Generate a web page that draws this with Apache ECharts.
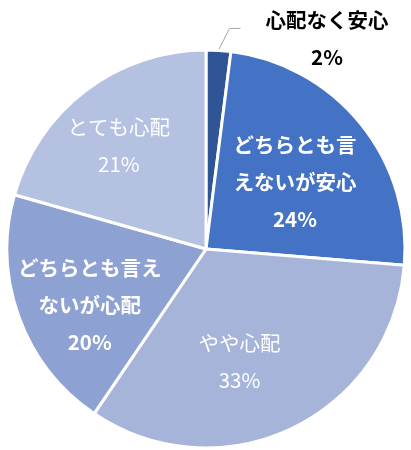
<!DOCTYPE html>
<html><head><meta charset="utf-8">
<script src="https://cdn.jsdelivr.net/npm/echarts@6/dist/echarts.min.js"></script>
<style>html,body{margin:0;padding:0;background:#fff}#c{width:411px;height:450px}</style>
</head><body><div id="c"></div>
<script>
const categories = ['心配なく安心', 'どちらとも言えないが安心', 'やや心配', 'どちらとも言えないが心配', 'とても心配'];
const values = [2.0, 24.3, 33.2, 19.9, 20.6];
const labelNames = ['心配なく安心', 'どちらとも言\nえないが安心', 'やや心配', 'どちらとも言え\nないが心配', 'とても心配'];
const colors = ['#2F5597', '#4472C4', '#A6B4DA', '#8EA1D3', '#B4C1E1'];
const bold = [true, true, false, true, false];

// label placement (polar offsets from slice centre: radius ratio, angle delta in degrees)
const labelRadius = [0, 0.56, 0.59, 0.65, 0.68];
const labelAngleShift = [0, 2, 9, -6, -3];

const cx = 206, cy = 249, R = 199;
const total = values.reduce((a, b) => a + b, 0);
const mids = [];
let acc = 0;
values.forEach(v => { mids.push((acc + v / 2) / total * 360); acc += v; });

const chart = echarts.init(document.getElementById('c'), null, {renderer: 'canvas'});
const font = '"Noto Sans CJK JP", "Noto Sans", sans-serif';
chart.setOption({
  animation: false,
  series: [{
    type: 'pie',
    center: [cx, cy],
    radius: [0, R],
    startAngle: 90,
    clockwise: true,
    avoidLabelOverlap: false,
    itemStyle: {borderColor: '#fff', borderWidth: 3},
    data: categories.map((c, i) => {
      const d = {
        name: c, value: values[i],
        itemStyle: {color: colors[i]},
        label: {
          position: i === 0 ? 'outside' : 'inside',
          color: i === 0 ? '#000' : '#fff',
          fontFamily: font,
          fontSize: 20.5,
          fontWeight: bold[i] ? 'bold' : 'normal',
          lineHeight: 37,
          align: 'center'
        }
      };
      if (i === 0) {
        d.labelLine = {show: true, length: 22, length2: 10, lineStyle: {color: '#A6A6A6', width: 1}};
      }
      return d;
    }),
    label: {
      show: true,
      formatter: p => labelNames[p.dataIndex] + '\n' + Math.round(p.percent) + '%'
    },
    labelLayout: function (p) {
      const i = p.dataIndex;
      if (i === 0) {
        const a0 = mids[0] * Math.PI / 180;
        const ex = cx + R * Math.sin(a0), ey = cy - R * Math.cos(a0);
        return {
          x: cx + 121, y: cy - 210, align: 'center', verticalAlign: 'middle',
          labelLinePoints: [[ex, ey], [ex + 11, ey - 22], [ex + 22, ey - 22]]
        };
      }
      const a = (mids[i] + labelAngleShift[i]) * Math.PI / 180;
      const r = labelRadius[i] * R;
      return {x: cx + r * Math.sin(a), y: cy - r * Math.cos(a), align: 'center', verticalAlign: 'middle'};
    }
  }]
});
</script></body></html>
